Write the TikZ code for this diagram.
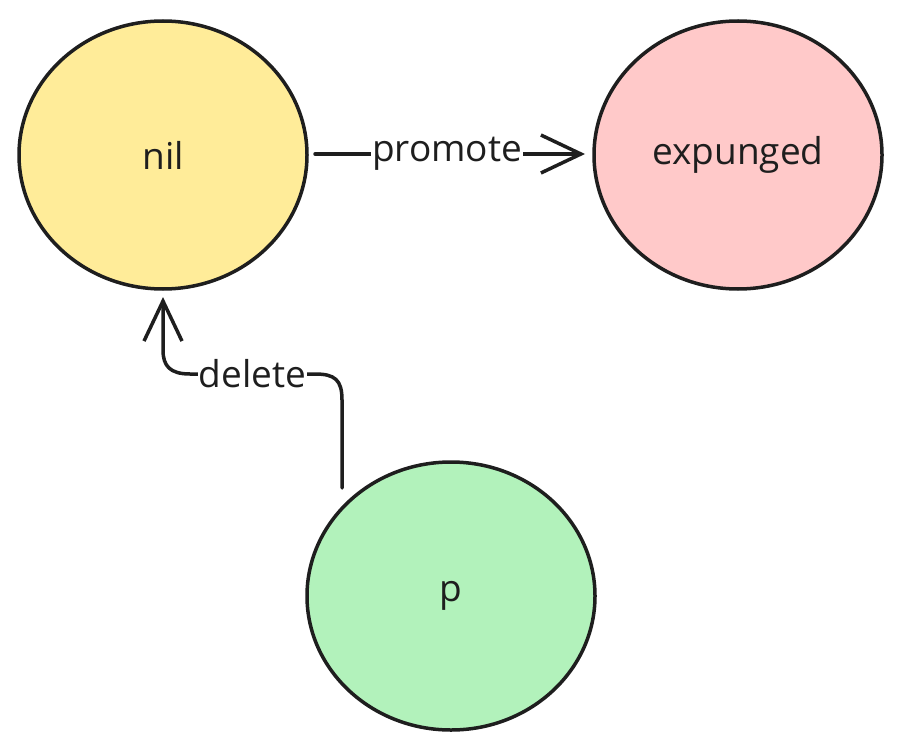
\documentclass[tikz,border=0pt]{standalone}
\usepackage{fontspec}
\setmainfont{Open Sans}
\usetikzlibrary{arrows.meta,shapes.geometric}
\definecolor{ink}{HTML}{1E1E1E}
\definecolor{yel}{HTML}{FFEC99}
\definecolor{pnk}{HTML}{FFC9C9}
\definecolor{grn}{HTML}{B2F2BB}
\tikzset{
  state/.style={draw=ink, line width=3.5pt, ellipse, minimum width=288pt, minimum height=268pt, font=\fontsize{37}{37}\selectfont, text=ink},
  conn/.style={draw=ink, line width=3.5pt, line cap=round, line join=round, -{Straight Barb[length=40pt, width=38pt, line width=3.5pt]}},
  lbl/.style={fill=white, inner sep=1pt, font=\fontsize{37}{37}\selectfont, text=ink}
}
\begin{document}
\begin{tikzpicture}[x=1pt,y=-1pt]
\useasboundingbox (0,0) rectangle (901,746);
\node[state, fill=yel] (nil) at (163,155) {nil};
\node[state, fill=pnk] (exp) at (738,155) {expunged};
\node[state, fill=grn] (p) at (451,596) {\raisebox{-8pt}{p}};
\coordinate (a1) at (315,154);
\coordinate (a2) at (585,154);
\draw[conn] (a1) -- node[lbl, xshift=-3pt] {promote} (a2);
\coordinate (b1) at (342,488);
\coordinate (b2) at (163,297);
\draw[conn] (b1) -- (342,400) .. controls (342,380) and (335,374) .. (315,374) -- node[lbl] {delete} (190,374) .. controls (170,374) and (163,366) .. (163,350) -- (b2);
\end{tikzpicture}
\end{document}
